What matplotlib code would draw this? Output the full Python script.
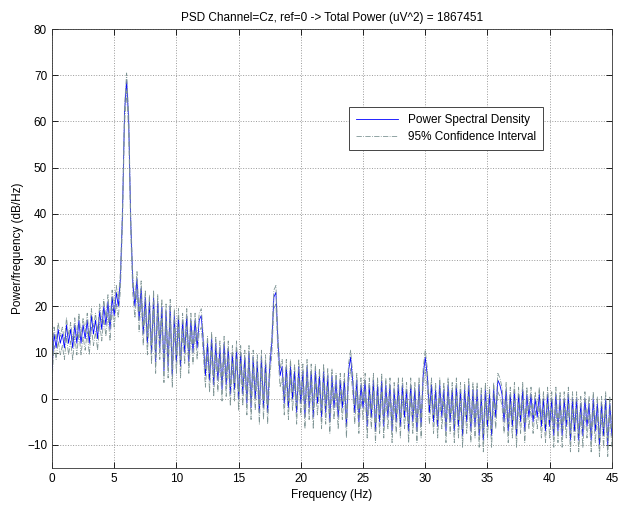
import numpy as np
import matplotlib
matplotlib.use("Agg")
import matplotlib.pyplot as plt

plt.rcParams['font.family'] = ['Liberation Sans', 'DejaVu Sans']

title = "PSD Channel=Cz, ref=0 -> Total Power (uV^2) = 1867451"
xlabel = "Frequency (Hz)"
ylabel = "Power/frequency (dB/Hz)"
legend_labels = ["Power Spectral Density", "95% Confidence Interval"]

# PSD values (dB/Hz), 6 samples per Hz, starting at 0 Hz
psd_db = [
    6, 14, 11, 15, 12, 14,        # 0
    11, 16, 12, 15, 11, 16,       # 1
    12, 17, 12, 16, 13, 17,       # 2
    12, 18, 14, 17, 13, 19,       # 3
    15, 20, 16, 21, 15, 22,       # 4
    18, 23, 20, 26, 40, 62,       # 5
    69, 60, 38, 25, 20, 26,       # 6
    17, 24, 14, 22, 12, 21,       # 7
    10, 22, 8, 21, 11, 20,        # 8
    6, 19, 7, 20, 5, 18,          # 9
    8, 18, 7, 17, 10, 18,         # 10
    8, 17, 10, 17, 11, 17,        # 11
    18, 12, 5, 12, 4, 13,         # 12
    3, 12, 4, 11, 2, 12,          # 13
    3, 11, 1, 10, 2, 11,          # 14
    0, 10, 1, 9, -1, 10,          # 15
    -2, 9, 0, 8, -3, 9,           # 16
    -2, 8, -3, 7, 12, 22,         # 17
    23, 12, 5, 7, -1, 7,          # 18
    -2, 7, 0, 6, -3, 7,           # 19
    -1, 6, -4, 7, -2, 6,          # 20
    -4, 6, -1, 5, -4, 6,          # 21
    -3, 5, -5, 5, -2, 4,          # 22
    -4, 4, -2, 4, -6, 6,          # 23
    9, 4, -3, 4, -5, 3,           # 24
    -2, 4, -6, 3, -4, 4,          # 25
    -7, 3, -5, 4, -6, 3,          # 26
    -4, 3, -7, 2, -5, 3,          # 27
    -6, 3, -4, 2, -7, 3,          # 28
    -5, 2, -7, 3, -6, 5,          # 29
    9, 5, -3, 3, -5, 2,           # 30
    -6, 3, -4, 2, -7, 3,          # 31
    -5, 2, -7, 3, -6, 2,          # 32
    -8, 2, -5, 3, -7, 2,          # 33
    -6, 2, -8, 1, -9, 2,          # 34
    -6, 1, -8, 2, -4, 4,          # 35
    3, 1, -5, 2, -7, 1,           # 36
    -6, 2, -8, 1, -5, 2,          # 37
    -7, 1, -4, 1, -5, 0,          # 38
    -4, 1, -6, 0, -7, 1,          # 39
    -6, 0, -8, 1, -7, 0,          # 40
    -8, 0, -6, 1, -9, 0,          # 41
    -7, 0, -9, -1, -8, 0,         # 42
    -6, -1, -9, 0, -7, -1,        # 43
    -10, -1, -8, 0, -10, -1,      # 44
    -8,                           # 45
]
ci_upper_offset = 1.5
ci_lower_offset = 2.5

x_ticks = [0, 5, 10, 15, 20, 25, 30, 35, 40, 45]
y_ticks = [-10, 0, 10, 20, 30, 40, 50, 60, 70, 80]

psd = np.array(psd_db, dtype=float)
freqs = np.linspace(0, 45, len(psd))
ci_hi = psd + ci_upper_offset
ci_lo = psd - ci_lower_offset

fig = plt.figure(figsize=(6.18, 5.11), dpi=100)
ax = fig.add_axes([0.0841, 0.0841, 0.906, 0.859])

ax.plot(freqs, psd, color='#0000ff', lw=0.6, label=legend_labels[0])
ax.plot(freqs, ci_hi, color='#7f9595', lw=0.6, ls='-.', label=legend_labels[1])
ax.plot(freqs, ci_lo, color='#7f9595', lw=0.6, ls='-.')

ax.set_xlim(0, 45)
ax.set_ylim(-15, 80)
ax.set_xticks(x_ticks)
ax.set_yticks(y_ticks)
ax.tick_params(direction='in', top=True, right=True, labelsize=8.5, length=4, width=0.6)
ax.grid(True, ls=':', color='#9a9a9a', lw=0.7)
for s in ax.spines.values():
    s.set_linewidth(0.6)
    s.set_color('#333333')

ax.set_title(title, fontsize=8.5, pad=6)
ax.set_xlabel(xlabel, fontsize=8.5, labelpad=3)
ax.set_ylabel(ylabel, fontsize=8.5, labelpad=2)

leg = ax.legend(loc='upper left', bbox_to_anchor=(0.53, 0.823), fontsize=8.5,
                fancybox=False, framealpha=1, edgecolor='#444444',
                handlelength=3.6, borderpad=0.6, labelspacing=0.45,
                borderaxespad=0)
leg.get_frame().set_linewidth(0.7)

fig.savefig('out.png', dpi=100)
